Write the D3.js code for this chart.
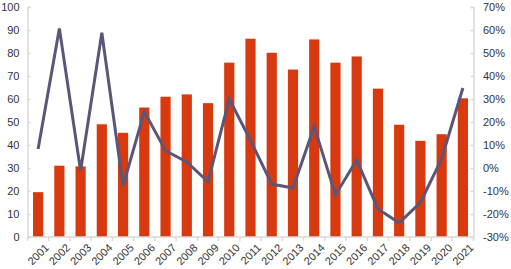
<!DOCTYPE html>
<html>
<head>
<meta charset="utf-8">
<script src="https://cdn.jsdelivr.net/npm/d3@7"></script>
<style>
  body { margin: 0; background: #fff; }
  svg text { font-family: "Liberation Sans", Arial, sans-serif; font-size: 11px; fill: #333; }
</style>
</head>
<body>
<svg id="chart" width="511" height="269"></svg>
<script>
var years = ["2001","2002","2003","2004","2005","2006","2007","2008","2009","2010","2011",
             "2012","2013","2014","2015","2016","2017","2018","2019","2020","2021"];
var volume = [19.5, 31, 30.7, 49, 45.3, 56.3, 61, 62, 58.2, 75.8, 86.2,
              80.1, 72.8, 85.9, 75.8, 78.5, 64.5, 48.8, 41.8, 44.7, 60.3];
var growth = [8.3, 60.7, -1.2, 58.8, -7.8, 24.5, 7.5, 2.6, -6, 30, 12,
              -7, -8.7, 18, -11.7, 3.5, -17.8, -23.8, -15, 4, 34.8];
var leftTicks = [0, 10, 20, 30, 40, 50, 60, 70, 80, 90, 100];
var rightTicks = [-30, -20, -10, 0, 10, 20, 30, 40, 50, 60, 70];

var svg = d3.select("#chart");
var pLeft = 27.5, pRight = 473.5, pTop = 7, pBottom = 237;

var x = d3.scaleBand().domain(years).range([pLeft, pRight]).paddingInner(0.52).paddingOuter(0.26);
var y = d3.scaleLinear().domain([0, 100]).range([pBottom, pTop]);
var y2 = d3.scaleLinear().domain([-30, 70]).range([pBottom, pTop]);

// bars
svg.append("g").selectAll("rect")
  .data(volume).enter()
  .append("rect")
  .attr("x", function(d, i) { return x(years[i]); })
  .attr("y", function(d) { return y(d); })
  .attr("width", x.bandwidth())
  .attr("height", function(d) { return pBottom - y(d); })
  .attr("fill", "#d9390e");

// axes
var axisColor = "#d9d9d9";
var gl = svg.append("g").attr("transform", "translate(" + pLeft + ",0)")
  .call(d3.axisLeft(y).tickValues(leftTicks).tickSize(-3));
var gr = svg.append("g").attr("transform", "translate(" + pRight + ",0)")
  .call(d3.axisRight(y2).tickValues(rightTicks).tickSize(-3)
    .tickFormat(function(d) { return d + "%"; }));
[gl, gr].forEach(function(g) {
  g.select(".domain").attr("stroke", axisColor).attr("stroke-width", 1.5);
  g.selectAll(".tick line").attr("stroke", axisColor).attr("stroke-width", 1.5);
  g.selectAll("text").style("font-size", "11px").attr("fill", "#333");
});
gl.selectAll("text").attr("x", -8);
gr.selectAll("text").attr("x", 9.5);

var step = x.step();
var gx = svg.append("g").attr("transform", "translate(0," + pBottom + ")");
gx.append("line").attr("x1", pLeft).attr("x2", pRight).attr("stroke", axisColor).attr("stroke-width", 1.5);
gx.selectAll("line.tk")
  .data(d3.range(years.length + 1)).enter()
  .append("line").attr("class", "tk")
  .attr("x1", function(i) { return pLeft + i * step; })
  .attr("x2", function(i) { return pLeft + i * step; })
  .attr("y1", 0).attr("y2", 4)
  .attr("stroke", axisColor).attr("stroke-width", 1.5);
gx.selectAll("text")
  .data(years).enter()
  .append("text")
  .attr("text-anchor", "end")
  .attr("transform", function(d) {
    return "translate(" + (x(d) + x.bandwidth() / 2 + 6) + ",6) rotate(-45)";
  })
  .attr("dy", "0.7em")
  .text(function(d) { return d; });

// line
var line = d3.line()
  .x(function(d, i) { return x(years[i]) + x.bandwidth() / 2; })
  .y(function(d) { return y2(d); });
svg.append("path")
  .datum(growth)
  .attr("d", line)
  .attr("fill", "none")
  .attr("stroke", "#5b5577")
  .attr("stroke-width", 3)
  .attr("stroke-linejoin", "miter");
</script>
</body>
</html>
